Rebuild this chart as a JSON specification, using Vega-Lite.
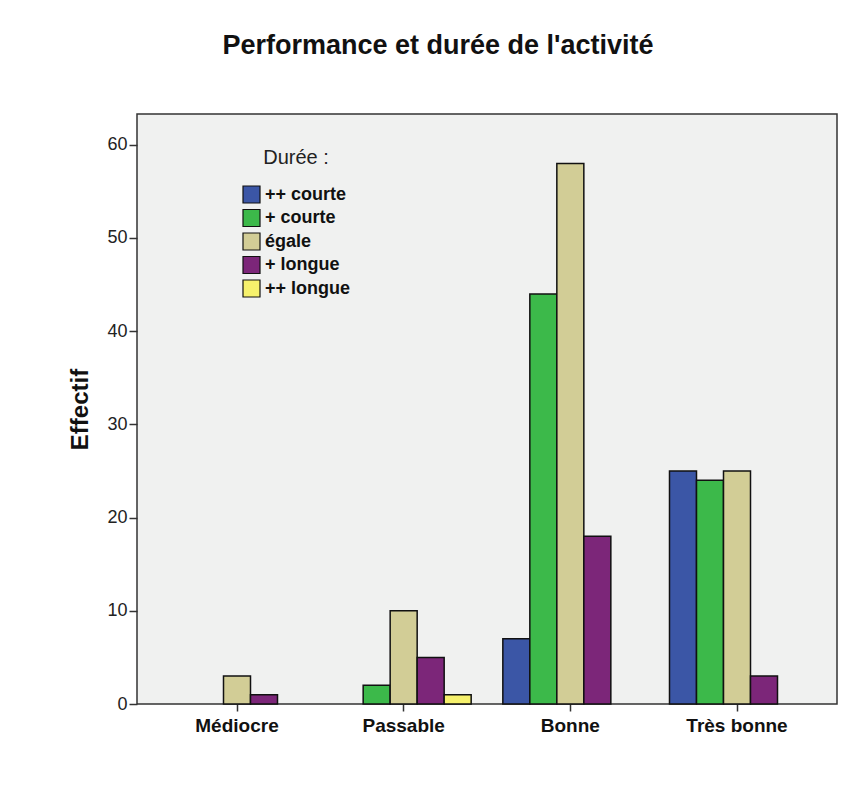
{
  "$schema": "https://vega.github.io/schema/vega-lite/v6.json",
  "autosize": "none",
  "width": 700,
  "height": 590,
  "padding": {"left": 137, "top": 114, "right": 22, "bottom": 82},
  "background": "white",
  "title": {
    "text": "Performance et durée de l'activité",
    "font": "Liberation Sans",
    "fontSize": 27,
    "fontWeight": "bold",
    "color": "#111",
    "anchor": "middle",
    "dx": -49,
    "offset": 54
  },
  "data": {
    "values": [
      {"Performance": "Médiocre", "Durée": "égale", "Effectif": 3},
      {"Performance": "Médiocre", "Durée": "+ longue", "Effectif": 1},
      {"Performance": "Passable", "Durée": "+ courte", "Effectif": 2},
      {"Performance": "Passable", "Durée": "égale", "Effectif": 10},
      {"Performance": "Passable", "Durée": "+ longue", "Effectif": 5},
      {"Performance": "Passable", "Durée": "++ longue", "Effectif": 1},
      {"Performance": "Bonne", "Durée": "++ courte", "Effectif": 7},
      {"Performance": "Bonne", "Durée": "+ courte", "Effectif": 44},
      {"Performance": "Bonne", "Durée": "égale", "Effectif": 58},
      {"Performance": "Bonne", "Durée": "+ longue", "Effectif": 18},
      {"Performance": "Très bonne", "Durée": "++ courte", "Effectif": 25},
      {"Performance": "Très bonne", "Durée": "+ courte", "Effectif": 24},
      {"Performance": "Très bonne", "Durée": "égale", "Effectif": 25},
      {"Performance": "Très bonne", "Durée": "+ longue", "Effectif": 3}
    ]
  },
  "mark": {"type": "bar", "stroke": "#111", "strokeWidth": 1.5},
  "encoding": {
    "x": {
      "field": "Performance",
      "type": "nominal",
      "sort": ["Médiocre", "Passable", "Bonne", "Très bonne"],
      "scale": {"paddingInner": 0.19, "paddingOuter": 0.195},
      "axis": {
        "title": null,
        "labelAngle": 0,
        "labelFont": "Liberation Sans",
        "labelFontSize": 19,
        "labelFontWeight": "bold",
        "labelColor": "#111",
        "labelPadding": 5,
        "tickSize": 7,
        "tickColor": "#333",
        "tickWidth": 1.5,
        "domain": false,
        "grid": false
      }
    },
    "xOffset": {
      "field": "Durée",
      "type": "nominal",
      "sort": ["++ courte", "+ courte", "égale", "+ longue", "++ longue"],
      "scale": {"domain": ["++ courte", "+ courte", "égale", "+ longue", "++ longue"], "paddingInner": 0, "paddingOuter": 0}
    },
    "y": {
      "field": "Effectif",
      "type": "quantitative",
      "scale": {"domain": [0, 63.3], "nice": false},
      "axis": {
        "title": "Effectif",
        "titleFont": "Liberation Sans",
        "titleFontSize": 24,
        "titleFontWeight": "bold",
        "titleColor": "#111",
        "titlePadding": 14,
        "values": [0, 10, 20, 30, 40, 50, 60],
        "labelFont": "Liberation Sans",
        "labelFontSize": 18,
        "labelColor": "#222",
        "labelPadding": 2,
        "tickSize": 8,
        "tickColor": "#333",
        "tickWidth": 1.5,
        "domain": false,
        "grid": false
      }
    },
    "color": {
      "field": "Durée",
      "type": "nominal",
      "scale": {
        "domain": ["++ courte", "+ courte", "égale", "+ longue", "++ longue"],
        "range": ["#3b56a6", "#3cb94a", "#d2cd96", "#7c2679", "#f6f16c"]
      },
      "legend": {
        "title": "Durée :",
        "orient": "none",
        "legendX": 105,
        "legendY": 34,
        "titleFont": "Liberation Sans",
        "titleFontSize": 20,
        "titleFontWeight": "normal",
        "titleColor": "#222",
        "titlePadding": 17,
        "titleAnchor": "middle",
        "offset": 0,
        "labelFont": "Liberation Sans",
        "labelFontSize": 18,
        "labelFontWeight": "bold",
        "labelColor": "#111",
        "labelOffset": 4,
        "symbolType": "square",
        "symbolSize": 289,
        "symbolStrokeColor": "#111",
        "symbolStrokeWidth": 1.2,
        "symbolOpacity": 1,
        "rowPadding": 0.5,
        "labelExpr": "datum.label == 'égale' ? ' égale' : datum.label"
      }
    }
  },
  "config": {
    "view": {"fill": "#f0f1f0", "stroke": "#333", "strokeWidth": 1.5}
  }
}
